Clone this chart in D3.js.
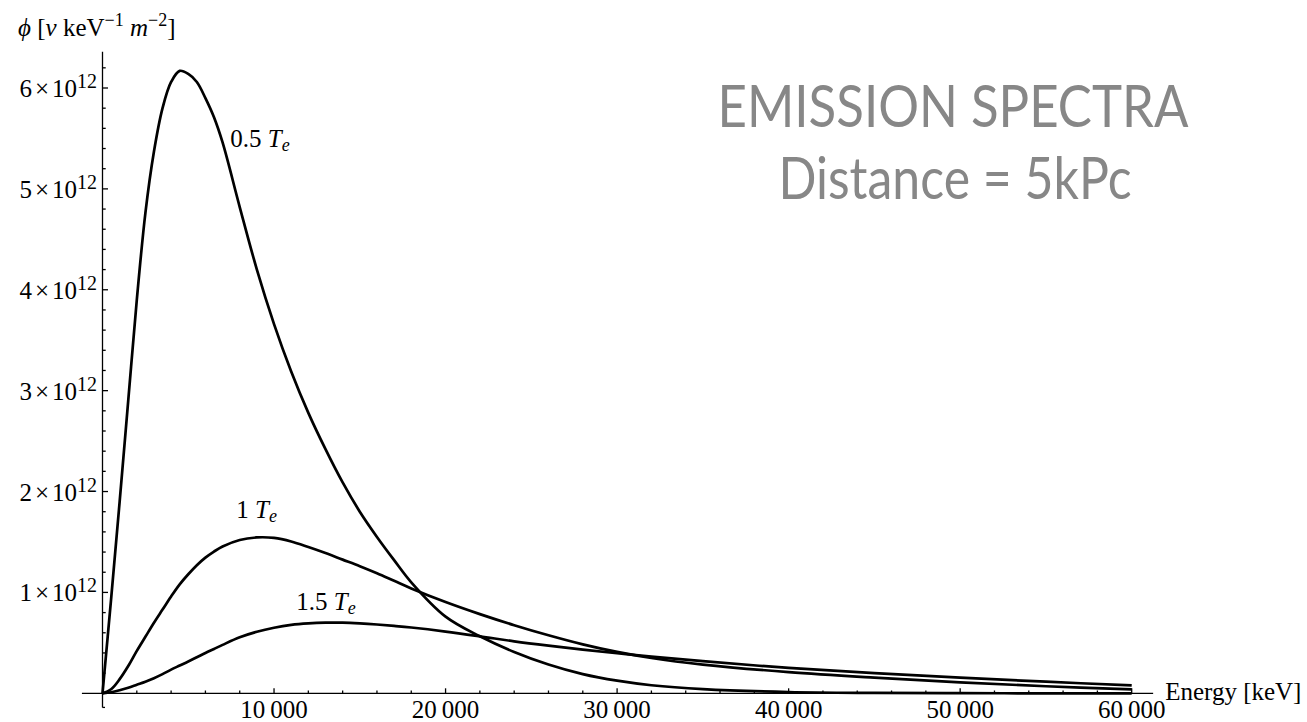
<!DOCTYPE html>
<meta charset="utf-8">
<style>
    body {
        margin: 0;
        background-color: #fff;
    }

    svg {
        display: block;
    }

    .serif {
        font-family: "Liberation Serif", "Times New Roman", serif;
        fill: #000;
    }

    .title {
        font-family: Lato, "Noto Sans", sans-serif;
        fill: #878787;
    }

    .curve {
        fill: none;
        stroke: #000;
        stroke-width: 2.7px;
        stroke-linejoin: round;
    }
</style>
<svg width="1307" height="722"></svg>
<script src="https://cdn.jsdelivr.net/npm/d3@7"></script>
<script>
    // energies in keV, fluxes in units of 1e12
    var energy = [0, 500, 1000, 1500, 2000, 2500, 3000, 3500, 4000, 4500,
        5000, 5500, 6000, 6500, 7000, 8000, 9000, 10000,
        11000, 12000, 13000, 14000, 15000, 16000, 17000, 18000,
        20000, 22000, 24000, 26000, 28000, 30000, 32000, 35000,
        40000, 45000, 50000, 55000, 60000];

    var te05 = [0, 0.93, 1.9, 2.9, 3.9, 4.76, 5.37, 5.80, 6.06, 6.17,
        6.14, 6.06, 5.90, 5.71, 5.46, 4.82, 4.20, 3.66,
        3.19, 2.78, 2.42, 2.09, 1.80, 1.55, 1.32, 1.10,
        0.76, 0.565, 0.41, 0.285, 0.19, 0.125, 0.08, 0.042,
        0.013, 0.004, 0.001, 0, 0];

    var te10 = [0, 0.04, 0.14, 0.27, 0.42, 0.56, 0.70, 0.83, 0.96, 1.08,
        1.18, 1.27, 1.345, 1.405, 1.455, 1.52, 1.545, 1.54,
        1.505, 1.45, 1.39, 1.325, 1.26, 1.19, 1.115, 1.04,
        0.905, 0.785, 0.675, 0.575, 0.485, 0.41, 0.35, 0.285,
        0.21, 0.155, 0.108, 0.07, 0.038];

    var te15 = [0, 0.01, 0.03, 0.055, 0.085, 0.115, 0.15, 0.19, 0.235, 0.275,
        0.315, 0.357, 0.40, 0.44, 0.48, 0.555, 0.61, 0.65,
        0.678, 0.693, 0.70, 0.70, 0.693, 0.682, 0.668, 0.652,
        0.612, 0.565, 0.515, 0.472, 0.433, 0.397, 0.364, 0.318,
        0.252, 0.2, 0.155, 0.115, 0.078];

    var seriesNames = ["0.5", "1", "1.5"];
    // label anchors [energy, flux] for each curve
    var labelPos = [[7450, 5.42], [7800, 1.74], [11300, 0.83]];

    var xTicks = [10000, 20000, 30000, 40000, 50000, 60000];
    var xTickLabels = ["10\u2009000", "20\u2009000", "30\u2009000", "40\u2009000", "50\u2009000", "60\u2009000"];
    var yTicks = [1, 2, 3, 4, 5, 6];
    var xExtent = [-1200, 61250];
    var yExtent = [-0.14, 6.36];

    var svg = d3.select("svg");

    var x = d3.scaleLinear().domain([0, 60000]).range([102.5, 1131.7]);
    var y = d3.scaleLinear().domain([0, 6]).range([693.3, 88]);

    // axes
    var axes = svg.append("g").attr("stroke", "#000").attr("stroke-width", 1.3);

    axes.append("line")
        .attr("x1", x(xExtent[0])).attr("x2", x(xExtent[1]))
        .attr("y1", y(0)).attr("y2", y(0));

    axes.append("line")
        .attr("x1", x(0)).attr("x2", x(0))
        .attr("y1", y(yExtent[0])).attr("y2", y(yExtent[1]));

    axes.append("line")
        .attr("x1", x(0)).attr("x2", x(0) + 2.5)
        .attr("y1", y(yExtent[0])).attr("y2", y(yExtent[0]));

    var xMinor = d3.range(2000, 60001, 2000).filter(function(d) { return d % 10000 != 0; });
    var yMinor = d3.range(0.2, 6.3, 0.2).filter(function(d) { return Math.abs(d - Math.round(d)) > 0.01; });

    axes.selectAll(".xmaj").data(xTicks).enter().append("line")
        .attr("x1", function(d) { return x(d); })
        .attr("x2", function(d) { return x(d); })
        .attr("y1", y(0)).attr("y2", y(0) - 5);

    axes.selectAll(".xmin").data(xMinor).enter().append("line")
        .attr("x1", function(d) { return x(d); })
        .attr("x2", function(d) { return x(d); })
        .attr("y1", y(0)).attr("y2", y(0) - 2.8);

    axes.selectAll(".ymaj").data(yTicks).enter().append("line")
        .attr("x1", x(0)).attr("x2", x(0) + 5.5)
        .attr("y1", function(d) { return y(d); })
        .attr("y2", function(d) { return y(d); });

    axes.selectAll(".ymin").data(yMinor).enter().append("line")
        .attr("x1", x(0)).attr("x2", x(0) + 3.2)
        .attr("y1", function(d) { return y(d); })
        .attr("y2", function(d) { return y(d); });

    // tick labels
    svg.selectAll(".xlab").data(xTicks).enter().append("text")
        .attr("class", "serif")
        .attr("x", function(d) { return x(d); })
        .attr("y", 718)
        .attr("text-anchor", "middle")
        .attr("font-size", 25)
        .text(function(d, i) { return xTickLabels[i]; });

    var ylab = svg.selectAll(".ylab").data(yTicks).enter().append("text")
        .attr("class", "serif")
        .attr("x", 97)
        .attr("y", function(d) { return y(d) + 9; })
        .attr("text-anchor", "end")
        .attr("font-size", 25);
    ylab.append("tspan").text(function(d) { return d; });
    ylab.append("tspan").attr("dx", 3).text("\u00d7");
    ylab.append("tspan").attr("dx", 3).text("10");
    ylab.append("tspan").attr("dy", -9).attr("font-size", 20).text("12");

    // axis titles
    var yt = svg.append("text").attr("class", "serif")
        .attr("x", 18).attr("y", 36).attr("font-size", 25);
    yt.append("tspan").attr("font-style", "italic").text("\u03d5");
    yt.append("tspan").text(" [");
    yt.append("tspan").attr("font-style", "italic").text("\u03bd");
    yt.append("tspan").text(" keV");
    yt.append("tspan").attr("dy", -10).attr("font-size", 18).text("\u22121");
    yt.append("tspan").attr("dy", 10).text(" ");
    yt.append("tspan").attr("font-style", "italic").text("m");
    yt.append("tspan").attr("dy", -10).attr("font-size", 18).text("\u22122");
    yt.append("tspan").attr("dy", 10).text("]");

    svg.append("text").attr("class", "serif")
        .attr("x", x(xExtent[1]) + 12).attr("y", y(0) + 6.5)
        .attr("font-size", 25)
        .text("Energy [keV]");

    // curves
    var line = d3.line()
        .x(function(d) { return x(d[0]); })
        .y(function(d) { return y(d[1]); })
        .curve(d3.curveCatmullRom.alpha(0.5));

    [te05, te10, te15].forEach(function(s, i) {
        svg.append("path")
            .attr("class", "curve")
            .attr("d", line(energy.map(function(e, j) { return [e, s[j]]; })));

        var t = svg.append("text").attr("class", "serif")
            .attr("x", x(labelPos[i][0]))
            .attr("y", y(labelPos[i][1]))
            .attr("font-size", 25);
        t.append("tspan").text(seriesNames[i] + " ");
        t.append("tspan").attr("font-style", "italic").text("T");
        t.append("tspan").attr("font-style", "italic").attr("font-size", 18)
            .attr("dy", 4).text("e");
    });

    // title
    svg.append("text").attr("class", "title")
        .attr("x", 953).attr("y", 127)
        .attr("text-anchor", "middle")
        .attr("font-size", 58)
        .attr("textLength", 471).attr("lengthAdjust", "spacingAndGlyphs")
        .text("EMISSION SPECTRA");

    svg.append("text").attr("class", "title")
        .attr("x", 955).attr("y", 199)
        .attr("text-anchor", "middle")
        .attr("font-size", 58)
        .attr("textLength", 353).attr("lengthAdjust", "spacingAndGlyphs")
        .text("Distance = 5kPc");
</script>
